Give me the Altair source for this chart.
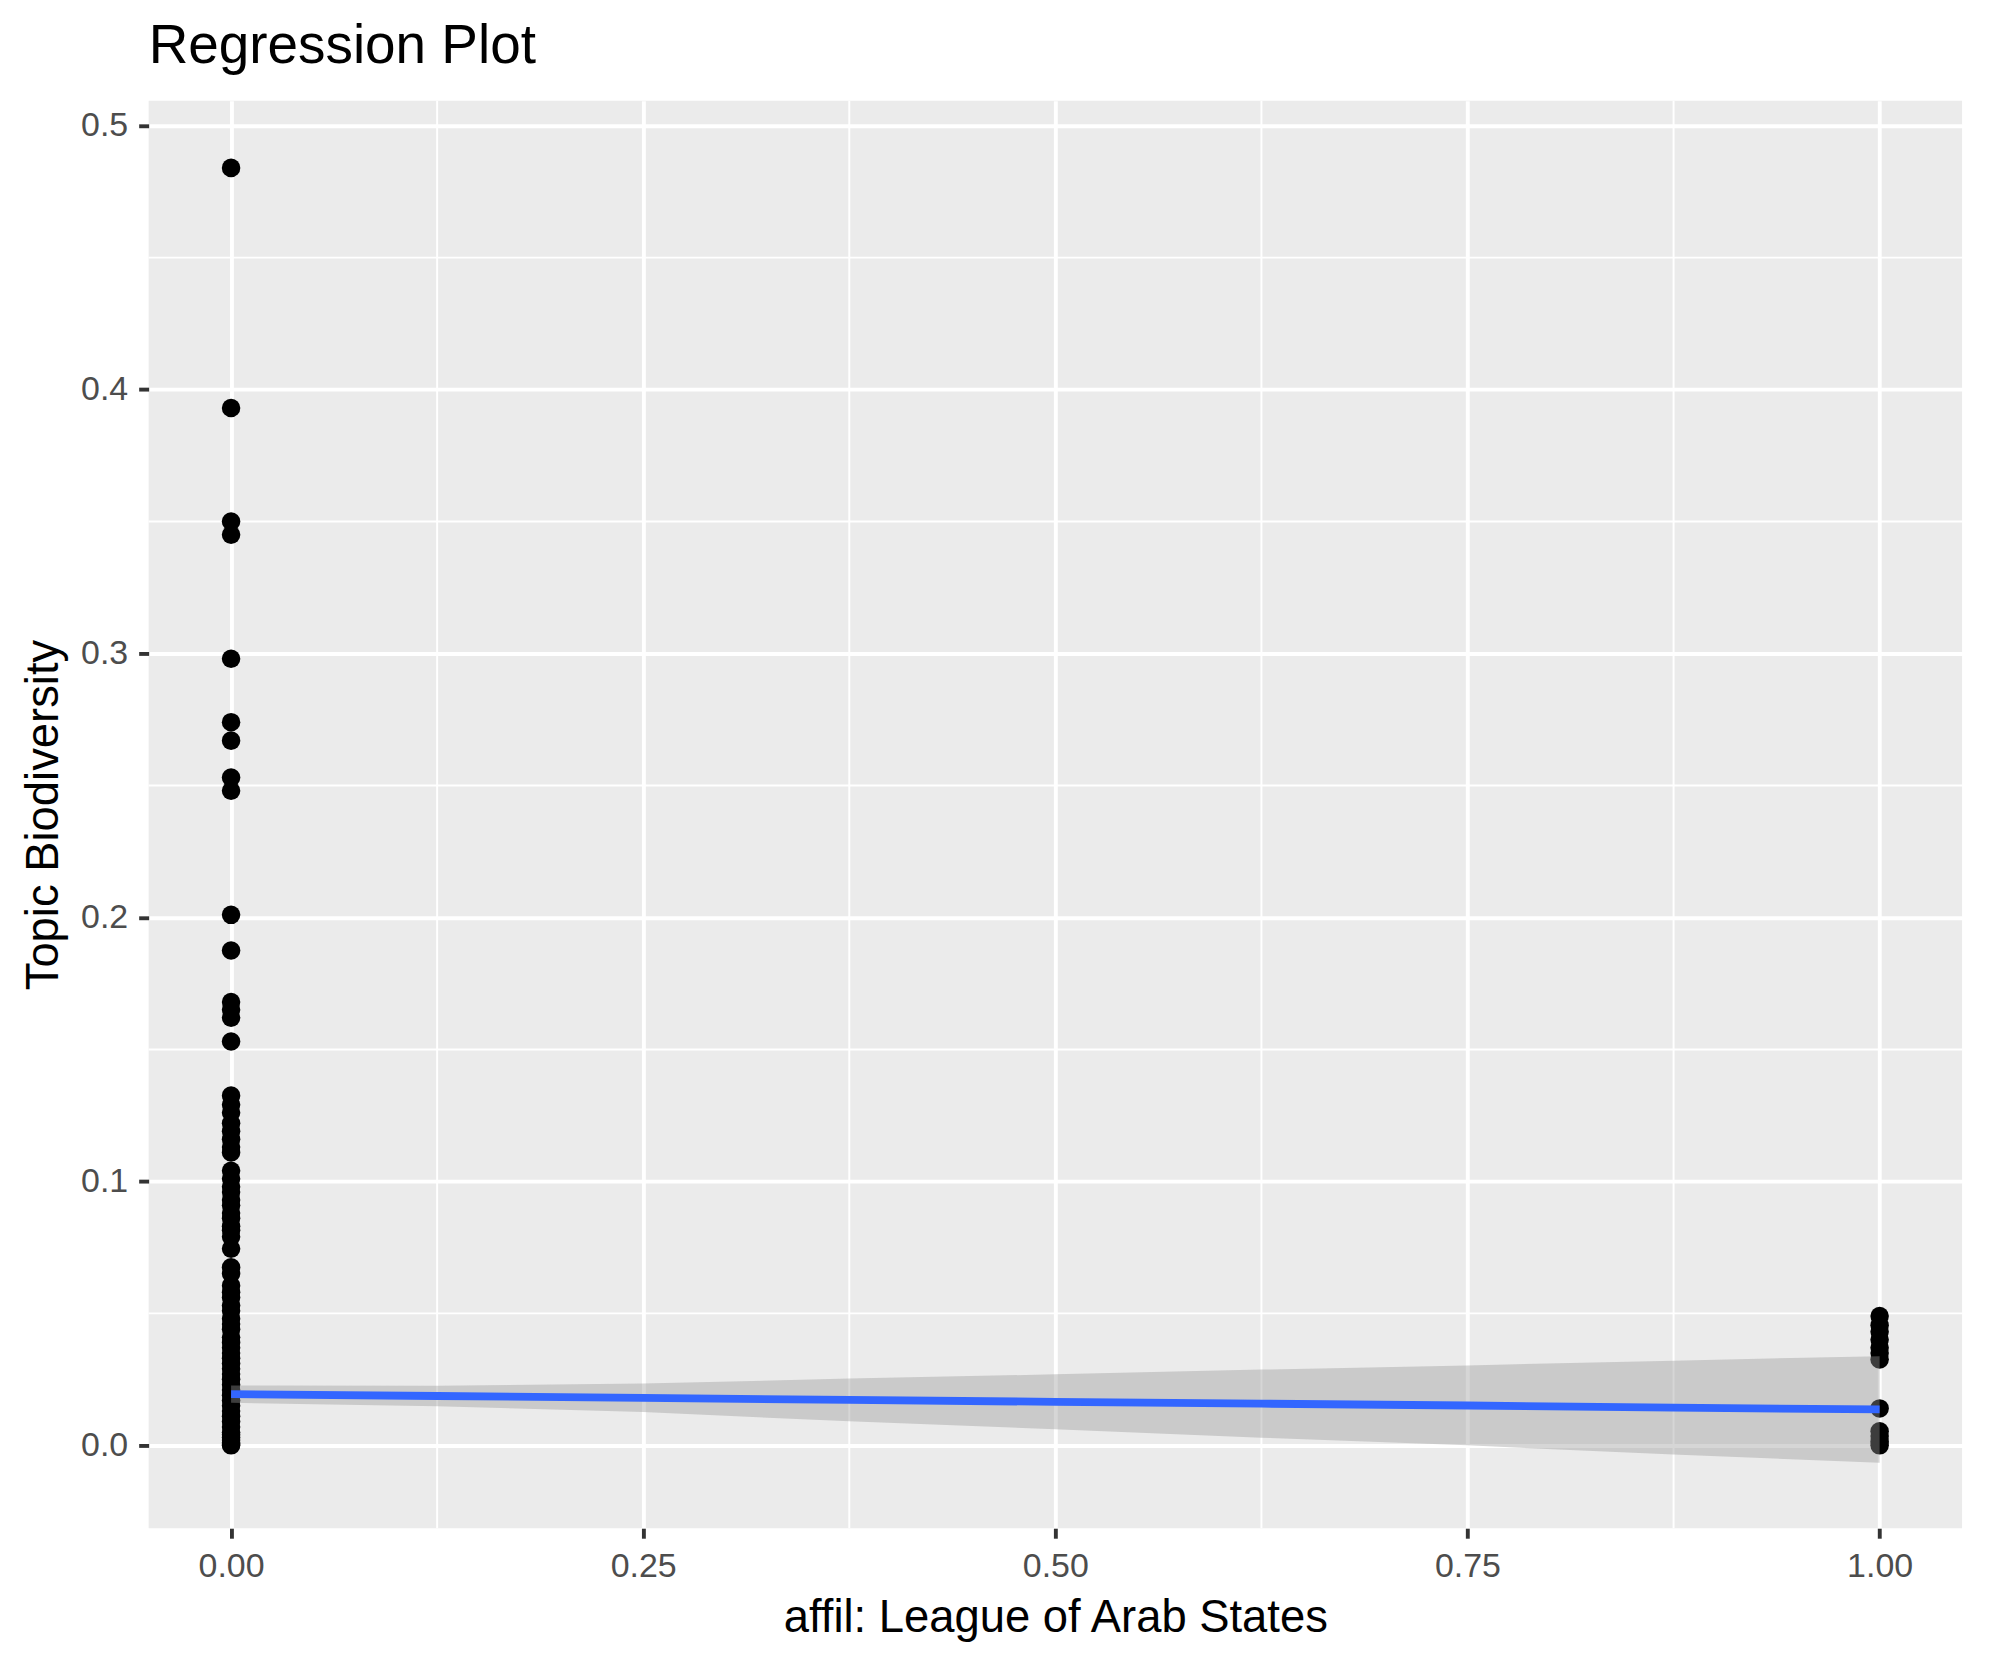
import altair as alt
import pandas as pd

# ---- data ----
x0_values = [0.484, 0.393, 0.350, 0.345, 0.298, 0.274, 0.267, 0.253, 0.248,
             0.201, 0.1875, 0.168, 0.165, 0.162, 0.153,
             0.1325, 0.129, 0.126, 0.122, 0.119, 0.116, 0.113, 0.111,
             0.104, 0.101, 0.098, 0.096, 0.093, 0.091, 0.088, 0.086, 0.083,
             0.0815, 0.079, 0.0745, 0.0675, 0.065, 0.0605, 0.058, 0.056,
             0.053, 0.051, 0.048, 0.046, 0.044, 0.041, 0.039, 0.037, 0.035,
             0.033, 0.031, 0.029, 0.027, 0.025, 0.023, 0.021, 0.019, 0.017,
             0.015, 0.013, 0.011, 0.009, 0.007, 0.005, 0.004, 0.003, 0.002,
             0.001, 0.0005, 0.0]
x1_values = [0.049, 0.0455, 0.043, 0.040, 0.037, 0.035, 0.0325,
             0.014, 0.0053, 0.0035, 0.0015, 0.0]

fit_x = [0.0, 0.125, 0.25, 0.375, 0.5, 0.625, 0.75, 0.875, 1.0]
fit_y = [0.0194, 0.0187, 0.0180, 0.0172, 0.0165, 0.0158, 0.0151, 0.0143, 0.0136]
fit_lo = [0.0161, 0.0148, 0.0126, 0.0091, 0.0061, 0.0029, 0.0000, -0.0035, -0.0066]
fit_hi = [0.0227, 0.0226, 0.0234, 0.0253, 0.0269, 0.0287, 0.0303, 0.0321, 0.0338]

x_major = [0.0, 0.25, 0.5, 0.75, 1.0]
x_minor = [0.125, 0.375, 0.625, 0.875]
y_major = [0.0, 0.1, 0.2, 0.3, 0.4, 0.5]
y_minor = [0.05, 0.15, 0.25, 0.35, 0.45]

FONT = "Liberation Sans"
W, H = 1818, 1431

points_df = pd.DataFrame({
    "x": [0.0] * len(x0_values) + [1.0] * len(x1_values),
    "y": x0_values + x1_values,
})
fit_df = pd.DataFrame({"x": fit_x, "y": fit_y, "lo": fit_lo, "hi": fit_hi})
xminor_df = pd.DataFrame({"x": x_minor})
yminor_df = pd.DataFrame({"y": y_minor})

xs = alt.Scale(domain=[-0.05, 1.05], nice=False, zero=False)
ys = alt.Scale(domain=[-0.0314, 0.5094], nice=False, zero=False)

x_axis = alt.Axis(
    values=x_major, format=".2f", grid=True, gridColor="white", gridWidth=3.9,
    tickSize=10, tickWidth=3.9, tickColor="#333333", domain=False,
    labelFont=FONT, labelFontSize=34, labelColor="#4D4D4D", labelPadding=11,
    labelFlush=False, labelOverlap=False,
    title="affil: League of Arab States", titleFont=FONT, titleFontSize=45.5,
    titleFontWeight="normal", titleColor="black",
    titleX=W / 2, titleY=104, titleBaseline="alphabetic", titleAlign="center",
)
y_axis = alt.Axis(
    values=y_major, format=".1f", grid=True, gridColor="white", gridWidth=3.9,
    tickSize=10, tickWidth=3.9, tickColor="#333333", domain=False,
    labelFont=FONT, labelFontSize=34, labelColor="#4D4D4D", labelPadding=11,
    labelFlush=False, labelOverlap=False,
    title="Topic Biodiversity", titleFont=FONT, titleFontSize=45.5,
    titleFontWeight="normal", titleColor="black", titleAngle=270,
    titleX=-91, titleY=H / 2, titleBaseline="alphabetic", titleAlign="center",
)

X = alt.X("x:Q", scale=xs, axis=x_axis)

xminor = alt.Chart(xminor_df).mark_rule(color="white", strokeWidth=1.96).encode(
    x=X
)
yminor = alt.Chart(yminor_df).mark_rule(color="white", strokeWidth=1.96).encode(
    y=alt.Y("y:Q", scale=ys, axis=y_axis)
)
points = alt.Chart(points_df).mark_circle(size=345, color="black", opacity=1).encode(
    x=X,
    y=alt.Y("y:Q", scale=ys, axis=y_axis),
)
ribbon = alt.Chart(fit_df).mark_area(color="#999999", opacity=0.4).encode(
    x=X,
    y=alt.Y("lo:Q", scale=ys, axis=y_axis),
    y2="hi:Q",
)
line = alt.Chart(fit_df).mark_line(color="#3366FF", strokeWidth=7.85).encode(
    x=X,
    y=alt.Y("y:Q", scale=ys, axis=y_axis),
)

chart = alt.layer(xminor, yminor, points, ribbon, line).properties(
    width=W, height=H,
    title=alt.Title("Regression Plot", anchor="start", frame="group", font=FONT,
                    fontSize=55, fontWeight="normal", color="black",
                    offset=25),
    autosize=alt.AutoSizeParams(type="none"),
    padding={"left": 141, "top": 91, "right": 20, "bottom": 120},
).configure_view(fill="#EBEBEB", strokeWidth=0)

chart.save("out.html", embed_options={"renderer": "svg", "actions": False})
